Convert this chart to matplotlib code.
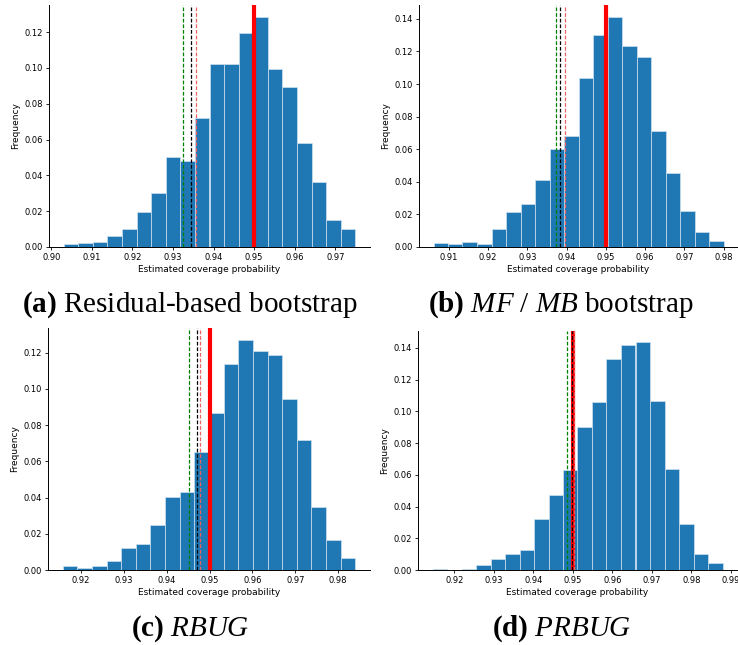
import matplotlib
matplotlib.use('Agg')
import matplotlib.pyplot as plt
import numpy as np

plt.rcParams['mathtext.fontset'] = 'custom'
plt.rcParams['mathtext.rm'] = 'Liberation Serif'
plt.rcParams['mathtext.it'] = 'Liberation Serif:italic'
plt.rcParams['mathtext.bf'] = 'Liberation Serif:bold'

# histogram ranges (first / last bin edge), 20 bins each
range_a = (0.90301, 0.97496)
range_b = (0.90608, 0.98000)
range_c = (0.91575, 0.98400)
range_d = (0.91450, 0.98786)

# relative frequencies per bin
freq_a = [0.0015, 0.0022, 0.0030, 0.0063, 0.0102, 0.0195, 0.0299, 0.0502, 0.0483, 0.0721,
          0.1020, 0.1020, 0.1194, 0.1287, 0.0994, 0.0895, 0.0581, 0.0362, 0.0149, 0.0102]
freq_b = [0.0022, 0.0016, 0.0029, 0.0020, 0.0108, 0.0214, 0.0261, 0.0414, 0.0602, 0.0678,
          0.1037, 0.1302, 0.1414, 0.1235, 0.1167, 0.0714, 0.0455, 0.0222, 0.0090, 0.0039]
freq_c = [0.0022, 0.0009, 0.0022, 0.0050, 0.0119, 0.0141, 0.0246, 0.0401, 0.0428, 0.0652,
          0.0869, 0.1139, 0.1272, 0.1207, 0.1185, 0.0946, 0.0720, 0.0347, 0.0167, 0.0068]
freq_d = [0.0009, 0.0000, 0.0009, 0.0031, 0.0069, 0.0101, 0.0126, 0.0321, 0.0470, 0.0628,
          0.0900, 0.1056, 0.1331, 0.1415, 0.1434, 0.1064, 0.0634, 0.0288, 0.0101, 0.0042]

nominal = 0.95
# dashed reference lines: green, black, red
lines_a = [0.93251, 0.93446, 0.93568]
lines_b = [0.93733, 0.93832, 0.93957]
lines_c = [0.94522, 0.94700, 0.94776]
lines_d = [0.94862, 0.94975, 0.95041]

captions = [r'$\mathbf{(a)}$ Residual-based bootstrap',
            r'$\mathbf{(b)}$ $\mathit{MF\ /\ MB}$ bootstrap',
            r'$\mathbf{(c)}$ $\mathit{RBUG}$',
            r'$\mathbf{(d)}$ $\mathit{PRBUG}$']

W, H = 738, 645
fig = plt.figure(figsize=(W / 100, H / 100), dpi=100)

# axes boxes in pixels: left, top, right, bottom
boxes = [(49, 5, 370, 247), (419, 5, 738, 247),
         (48, 328, 370, 570), (418, 331, 737, 570)]
caption_pos = [(190, 305), (561, 305), (190, 629), (561, 629)]

panels = [(range_a, freq_a, lines_a), (range_b, freq_b, lines_b),
          (range_c, freq_c, lines_c), (range_d, freq_d, lines_d)]

for (rng, freq, dl), (l, t, r, b), (cx, cy), cap in zip(panels, boxes, caption_pos, captions):
    ax = fig.add_axes([l / W, 1 - b / H, (r - l) / W, (b - t) / H])
    edges = np.linspace(rng[0], rng[1], len(freq) + 1)
    centers = (edges[:-1] + edges[1:]) / 2
    ax.hist(centers, bins=edges, weights=freq, color='#1f77b4',
            edgecolor='#cfe1ef', linewidth=0.5)
    ax.axvline(nominal, color='red', linewidth=3)
    ax.axvline(dl[0], color='green', linestyle=(0, (3, 1.5)), linewidth=0.9)
    ax.axvline(dl[1], color='black', linestyle=(0, (3, 1.5)), linewidth=0.9)
    ax.axvline(dl[2], color='#f06060', linestyle=(0, (3, 1.5)), linewidth=0.9)
    ax.set_xlabel('Estimated coverage probability', fontsize=6.5, labelpad=2)
    ax.set_ylabel('Frequency', fontsize=6.5, labelpad=3)
    ax.tick_params(labelsize=6, length=2.5, width=0.6, pad=2)
    for s in ['top', 'right']:
        ax.spines[s].set_visible(False)
    for s in ['left', 'bottom']:
        ax.spines[s].set_linewidth(0.7)
    fig.text(cx / W, 1 - cy / H, cap, fontfamily='Liberation Serif', fontsize=21,
             ha='center', va='center')

fig.savefig('out.png', dpi=100)
